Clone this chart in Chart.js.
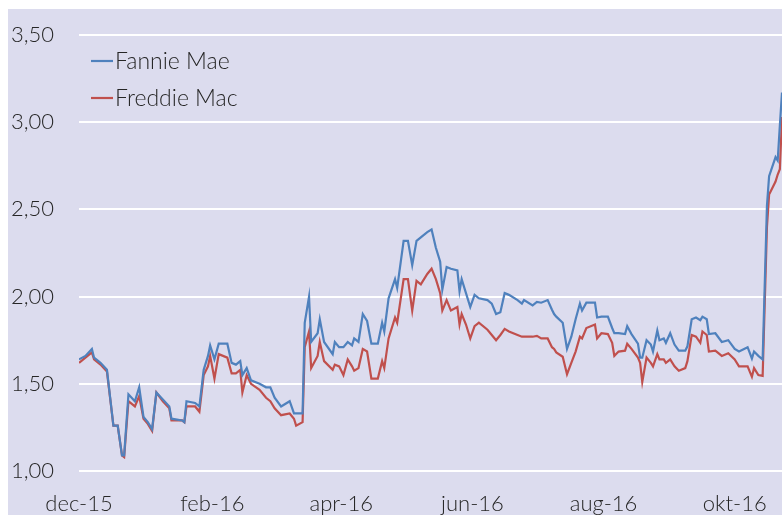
<!DOCTYPE html>
<html>
<head>
<meta charset="utf-8">
<title>Fannie Mae / Freddie Mac</title>
<script src="https://cdn.jsdelivr.net/npm/chart.js@4/dist/chart.umd.min.js"></script>
<style>
  html, body { margin: 0; padding: 0; background: #ffffff; }
  #wrap { position: absolute; left: 8px; top: 9px; width: 774px; height: 506px; background: #dcdcee; }
</style>
</head>
<body>
<div id="wrap"><canvas id="priceChart"></canvas></div>
<script>
// days since 1 dec 2015
const days = [
  0, 3, 6, 7, 10, 13, 16, 18, 20, 21, 23, 26, 28, 30, 32, 34, 36, 39, 42, 43,
  48, 49, 50, 54, 56, 58, 60, 61, 63, 65, 69, 71, 73, 75, 76, 78, 80, 84, 87, 89,
  91, 94, 98, 100, 101, 104, 105, 107, 108, 111, 112, 114, 118, 119, 121, 123, 125, 127, 128, 130, 132,
  134, 136, 139, 141, 142, 144, 147, 148, 151, 153, 155, 157, 159, 162, 164, 166, 168, 169, 171, 173, 176,
  177, 178, 180, 182, 184, 186, 190, 192, 194, 196, 198, 200, 204, 206, 207, 211, 213, 215, 218, 220, 221,
  222, 225, 227, 229, 231, 233, 234, 236, 240, 241, 243, 246, 248, 249, 251, 254, 255, 257, 260, 261, 262, 264, 266,
  267, 269, 270, 272, 273, 275, 277, 279, 282, 283, 285, 287, 289, 290, 292, 293, 296, 299, 302, 305, 307, 311,
  313, 314, 316, 318, 320, 321, 324, 325, 326, 327
];

const fannieMae = [
  1.64, 1.66, 1.70, 1.65, 1.62, 1.58, 1.26, 1.26, 1.09, 1.09, 1.44, 1.40, 1.48, 1.31, 1.28, 1.24, 1.45, 1.41, 1.37, 1.30,
  1.29, 1.28, 1.40, 1.39, 1.37, 1.58, 1.66, 1.72, 1.64, 1.73, 1.73, 1.62, 1.61, 1.63, 1.55, 1.59, 1.52, 1.50, 1.48, 1.48,
  1.42, 1.37, 1.40, 1.33, 1.33, 1.33, 1.85, 2.00, 1.74, 1.79, 1.87, 1.74, 1.67, 1.74, 1.71, 1.71, 1.74, 1.72, 1.76, 1.74, 1.90,
  1.86, 1.73, 1.73, 1.85, 1.80, 1.99, 2.10, 2.05, 2.32, 2.32, 2.18, 2.32, 2.34, 2.37, 2.385, 2.28, 2.20, 2.04, 2.17, 2.16, 2.15,
  2.03, 2.10, 2.02, 1.94, 2.01, 1.99, 1.98, 1.96, 1.90, 1.91, 2.02, 2.01, 1.98, 1.96, 1.98, 1.95, 1.97, 1.965, 1.98, 1.925, 1.90,
  1.885, 1.85, 1.70, 1.77, 1.87, 1.96, 1.92, 1.965, 1.965, 1.88, 1.885, 1.885, 1.82, 1.79, 1.79, 1.785, 1.83, 1.785, 1.73, 1.65, 1.65, 1.75, 1.725,
  1.685, 1.805, 1.75, 1.76, 1.735, 1.79, 1.725, 1.69, 1.69, 1.715, 1.87, 1.88, 1.865, 1.885, 1.87, 1.785, 1.79, 1.74, 1.75, 1.70, 1.685, 1.71,
  1.645, 1.685, 1.66, 1.64, 2.52, 2.69, 2.80, 2.78, 2.98, 3.17
];

const freddieMac = [
  1.62, 1.65, 1.68, 1.64, 1.61, 1.57, 1.26, 1.26, 1.09, 1.08, 1.40, 1.37, 1.43, 1.30, 1.27, 1.23, 1.45, 1.40, 1.36, 1.29,
  1.29, 1.28, 1.37, 1.37, 1.34, 1.55, 1.60, 1.66, 1.53, 1.67, 1.65, 1.56, 1.56, 1.58, 1.45, 1.55, 1.50, 1.465, 1.42, 1.40,
  1.36, 1.32, 1.33, 1.30, 1.26, 1.28, 1.71, 1.80, 1.59, 1.66, 1.74, 1.63, 1.58, 1.61, 1.60, 1.55, 1.64, 1.60, 1.575, 1.59, 1.70,
  1.685, 1.53, 1.53, 1.63, 1.59, 1.76, 1.88, 1.85, 2.10, 2.10, 1.92, 2.09, 2.07, 2.13, 2.16, 2.10, 2.02, 1.92, 1.98, 1.92, 1.94,
  1.84, 1.90, 1.84, 1.76, 1.83, 1.85, 1.81, 1.78, 1.75, 1.78, 1.815, 1.80, 1.78, 1.77, 1.77, 1.77, 1.775, 1.76, 1.76, 1.71, 1.70,
  1.68, 1.655, 1.555, 1.62, 1.685, 1.77, 1.76, 1.82, 1.84, 1.76, 1.79, 1.785, 1.735, 1.66, 1.685, 1.69, 1.73, 1.70, 1.65, 1.62, 1.51, 1.65, 1.62,
  1.60, 1.67, 1.64, 1.64, 1.62, 1.64, 1.60, 1.575, 1.59, 1.63, 1.78, 1.77, 1.735, 1.80, 1.78, 1.685, 1.69, 1.66, 1.675, 1.64, 1.60, 1.60,
  1.54, 1.59, 1.55, 1.545, 2.40, 2.585, 2.66, 2.70, 2.73, 3.03
];

const tickDays = [0, 62, 122, 183, 244, 305];
const tickLabels = ["dec-15", "feb-16", "apr-16", "jun-16", "aug-16", "okt-16"];

const FONT = "Lato, 'Open Sans', sans-serif";

// legend drawn inside the plot, top left, like the original
const innerLegend = {
  id: "innerLegend",
  afterDraw(chart) {
    const ctx = chart.ctx;
    const area = chart.chartArea;
    ctx.save();
    ctx.font = "300 23px " + FONT;
    ctx.textBaseline = "middle";
    chart.data.datasets.forEach((ds, i) => {
      const y = area.top + 26 + i * 37;
      ctx.strokeStyle = ds.borderColor;
      ctx.lineWidth = 2.2;
      ctx.beginPath();
      ctx.moveTo(area.left + 12, y);
      ctx.lineTo(area.left + 34, y);
      ctx.stroke();
      ctx.fillStyle = "#262626";
      ctx.fillText(ds.label, area.left + 36, y + 1);
    });
    ctx.restore();
  }
};

const ctx = document.getElementById("priceChart").getContext("2d");
new Chart(ctx, {
  type: "line",
  data: {
    datasets: [
      {
        label: "Fannie Mae",
        data: days.map((d, i) => ({ x: d, y: fannieMae[i] })),
        borderColor: "#4f81bd",
        borderWidth: 2.2,
        pointRadius: 0,
        tension: 0,
        fill: false,
      },
      {
        label: "Freddie Mac",
        data: days.map((d, i) => ({ x: d, y: freddieMac[i] })),
        borderColor: "#c0504d",
        borderWidth: 2.2,
        pointRadius: 0,
        tension: 0,
        fill: false,
      },
    ],
  },
  options: {
    responsive: true,
    maintainAspectRatio: false,
    animation: false,
    layout: { padding: { top: 26, right: 0, left: 0, bottom: 0 } },
    plugins: {
      legend: { display: false },
      tooltip: { enabled: false },
    },
    scales: {
      x: {
        type: "linear",
        min: 0,
        max: 327,
        afterBuildTicks: (scale) => {
          scale.ticks = tickDays.map((v) => ({ value: v }));
        },
        afterFit: (scale) => {
          scale.height = 44;
          scale.paddingLeft = 0;
          scale.paddingRight = 0;
        },
        grid: { display: false, drawTicks: false },
        border: { display: false },
        ticks: {
          autoSkip: false,
          maxRotation: 0,
          padding: 20,
          color: "#262626",
          font: { family: FONT, size: 22, weight: "300" },
          callback: (value) => tickLabels[tickDays.indexOf(value)],
        },
      },
      y: {
        min: 1,
        max: 3.5,
        afterFit: (scale) => {
          scale.width = 71;
          scale.paddingTop = 0;
          scale.paddingBottom = 0;
        },
        grid: { color: "#ffffff", lineWidth: 2, drawTicks: false },
        border: { display: false },
        ticks: {
          stepSize: 0.5,
          padding: 25,
          color: "#262626",
          font: { family: FONT, size: 22, weight: "300" },
          callback: (value) => value.toFixed(2).replace(".", ","),
        },
      },
    },
  },
  plugins: [innerLegend],
});
</script>
</body>
</html>
